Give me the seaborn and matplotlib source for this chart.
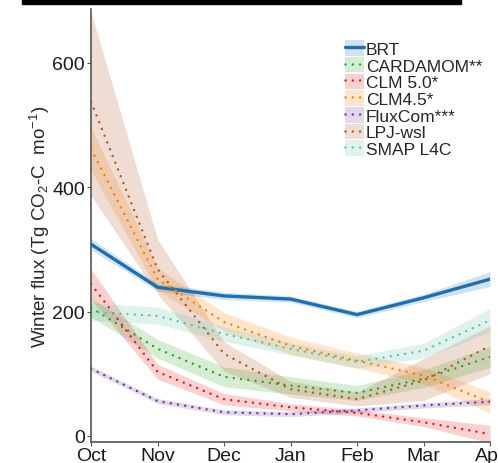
import numpy as np
import pandas as pd
import matplotlib
matplotlib.use("Agg")
import matplotlib.pyplot as plt
import seaborn as sns
from matplotlib.patches import Patch, Rectangle
from matplotlib.lines import Line2D

# values
months = ["Oct", "Nov", "Dec", "Jan", "Feb", "Mar", "Apr"]
models = ["BRT", "CARDAMOM**", "CLM 5.0*", "CLM4.5*", "FluxCom***", "LPJ-wsl", "SMAP L4C"]

brt = [308, 239, 225, 220, 195, 222, 252]
brt_lo = [299, 233, 219, 215, 190, 216, 240]
brt_hi = [317, 245, 231, 225, 200, 228, 264]

cardamom = [206, 140, 95, 81, 69, 92, 127]
cardamom_lo = [191, 125, 79, 67, 57, 78, 110]
cardamom_hi = [221, 155, 111, 95, 81, 106, 144]

clm50 = [244, 103, 59, 46, 37, 22, 3]
clm50_lo = [220, 91, 50, 40, 32, 15, -11]
clm50_hi = [268, 115, 68, 52, 42, 29, 17]

clm45 = [461, 252, 183, 145, 121, 97, 54]
clm45_lo = [426, 234, 168, 131, 109, 84, 37]
clm45_hi = [496, 270, 198, 159, 133, 110, 71]

fluxcom = [108, 56, 38, 35, 41, 49, 55]
fluxcom_lo = [104, 52, 34, 31, 37, 45, 50]
fluxcom_hi = [112, 60, 42, 39, 45, 53, 60]

lpj = [537, 268, 132, 75, 59, 89, 145]
lpj_lo = [386, 228, 104, 62, 48, 57, 100]
lpj_hi = [681, 316, 151, 88, 70, 124, 177]

smap = [199, 193, 164, 140, 119, 137, 186]
smap_lo = [186, 180, 152, 130, 109, 125, 167]
smap_hi = [214, 207, 176, 150, 129, 149, 205]

colors = ["#1f6fb0", "#33a02c", "#e31a1c", "#ff7f00", "#6a3d9a", "#b15928", "#66c2a5"]

means = [brt, cardamom, clm50, clm45, fluxcom, lpj, smap]
lows = [brt_lo, cardamom_lo, clm50_lo, clm45_lo, fluxcom_lo, lpj_lo, smap_lo]
highs = [brt_hi, cardamom_hi, clm50_hi, clm45_hi, fluxcom_hi, lpj_hi, smap_hi]

rows = []
for m, vals in zip(models, means):
    for i, v in enumerate(vals):
        rows.append({"model": m, "month": i, "flux": v})
df = pd.DataFrame(rows)

sns.set_style("ticks")
plt.rcParams["font.family"] = ["Liberation Sans", "DejaVu Sans"]
plt.rcParams["mathtext.default"] = "regular"
plt.rcParams["lines.dash_capstyle"] = "round"

fig = plt.figure(figsize=(4.98, 4.64), dpi=100)
ax = fig.add_axes([0.183, 0.045, 0.801, 0.933])

pal = dict(zip(models, colors))
dot = (0.01, 2.9)
dash_map = {m: (dot if m != "BRT" else "") for m in models}
size_map = {m: (2.4 if m == "BRT" else 1.8) for m in models}

for m, lo, hi in zip(models, lows, highs):
    ax.fill_between(range(len(months)), lo, hi, color=pal[m], alpha=0.2, lw=0)

sns.lineplot(data=df, x="month", y="flux", hue="model", style="model",
             size="model", sizes=size_map, palette=pal, dashes=dash_map,
             legend=False, ax=ax)

ax.set_xlim(0, 6)
ax.set_ylim(-10, 686)
ax.set_xticks(range(len(months)))
ax.set_xticklabels(months)
ax.set_yticks([0, 200, 400, 600])
ax.set_xlabel("")
ax.set_ylabel(r"Winter flux (Tg CO$_2$-C  mo$^{-1}$)", fontsize=13.5, labelpad=0)
ax.tick_params(labelsize=14, colors="#555555", labelcolor="#1a1a1a", length=3)
ax.tick_params(axis="x", pad=0.5)
ax.tick_params(axis="y", pad=1.5)
sns.despine(ax=ax)
for s in ["left", "bottom"]:
    ax.spines[s].set_color("#555555")
    ax.spines[s].set_linewidth(1.2)

handles = []
for m in models:
    ls = "-" if m == "BRT" else (0, dot)
    lw = 2.4 if m == "BRT" else 1.8
    handles.append((Patch(facecolor=pal[m], alpha=0.2, lw=0),
                    Line2D([], [], color=pal[m], ls=ls, lw=lw)))
leg = fig.legend(handles, models, loc="upper left", bbox_to_anchor=(0.675, 0.93),
                 frameon=False, fontsize=12.5, handlelength=1.1, handleheight=1.0,
                 handletextpad=0.1, labelspacing=0.0, borderpad=0)

# black bar of the cropped frame at the top
fig.patches.append(Rectangle((0.044, 0.99), 0.882, 0.01, transform=fig.transFigure,
                             color="black", zorder=5))

fig.savefig("out.png", dpi=100)
